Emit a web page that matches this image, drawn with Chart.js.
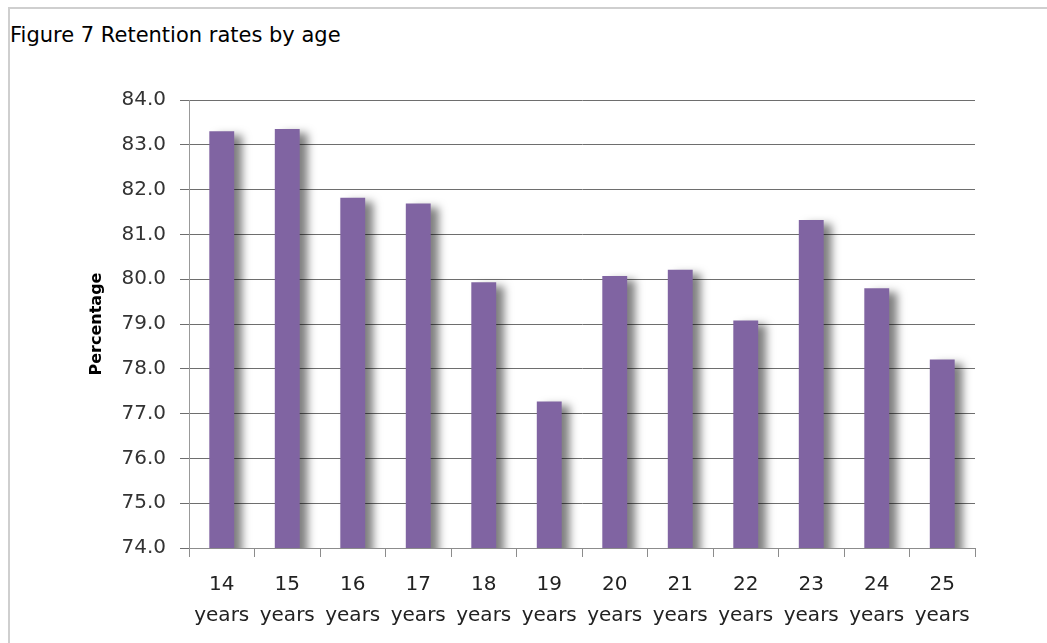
<!DOCTYPE html>
<html>
<head>
<meta charset="utf-8">
<script src="https://cdn.jsdelivr.net/npm/chart.js@4/dist/chart.umd.min.js"></script>
<style>
  html, body { margin: 0; padding: 0; background: #fff; }
  #wrap { position: relative; width: 1047px; height: 643px; overflow: hidden; }
  #frame { position: absolute; left: 8px; top: 7px; right: -10px; bottom: -10px;
           border-top: 2px solid #cfcfcf; border-left: 2px solid #cfcfcf; }
  #title { position: absolute; left: 10px; top: 25px; font-family: "DejaVu Sans", Verdana, sans-serif;
           font-size: 21px; line-height: 21px; color: #000; white-space: nowrap; }
  canvas { position: absolute; left: 0; top: 0; }
</style>
</head>
<body>
<div id="wrap">
  <div id="frame"></div>
  <div id="title">Figure 7 Retention rates by age</div>
  <canvas id="c" width="1047" height="643"></canvas>
</div>
<script>
const ages = ['14','15','16','17','18','19','20','21','22','23','24','25'];
const unitLabel = 'years';
const retention = [83.3, 83.35, 81.82, 81.69, 79.93, 77.27, 80.07, 80.21, 79.08, 81.32, 79.8, 78.21];
const yMin = 74.0;
const yMax = 84.0;
const yStep = 1.0;
const yAxisTitle = 'Percentage';

const labels = ages.map(a => [a, unitLabel]);

const shadowPlugin = {
  id: 'barShadow',
  beforeDatasetDraw(chart) {
    const ctx = chart.ctx;
    ctx.save();
    ctx.shadowColor = 'rgba(0,0,0,0.5)';
    ctx.shadowBlur = 9;
    ctx.shadowOffsetX = 8;
    ctx.shadowOffsetY = 4;
  },
  afterDatasetDraw(chart) {
    chart.ctx.restore();
  }
};

new Chart(document.getElementById('c'), {
  type: 'bar',
  data: {
    labels: labels,
    datasets: [{
      data: retention,
      backgroundColor: '#8064A2',
      borderWidth: 0,
      barPercentage: 0.38,
      categoryPercentage: 1.0
    }]
  },
  options: {
    responsive: false,
    animation: false,
    layout: { padding: { left: 80, top: 100, right: 72, bottom: 0 } },
    plugins: { legend: { display: false }, tooltip: { enabled: false }, title: { display: false } },
    scales: {
      x: {
        grid: { drawOnChartArea: false, drawTicks: true, tickLength: 9, color: '#8c8c8c', offset: true },
        border: { display: true, color: '#8c8c8c', width: 1 },
        ticks: {
          color: '#222',
          font: { family: '"DejaVu Sans", Verdana, sans-serif', size: 20, lineHeight: 1.55 },
          padding: 12,
          maxRotation: 0,
          autoSkip: false
        },
        afterFit(scale) { scale.height = 95; }
      },
      y: {
        min: yMin,
        max: yMax,
        grid: { color: '#6e6e6e', lineWidth: 1, tickLength: 9, drawTicks: true },
        border: { display: true, color: '#999999', width: 1 },
        ticks: {
          stepSize: yStep,
          color: '#333',
          padding: 14,
          font: { family: '"DejaVu Sans", Verdana, sans-serif', size: 20 },
          callback: v => Number(v).toFixed(1)
        },
        title: {
          display: true,
          text: yAxisTitle,
          color: '#000',
          font: { family: '"DejaVu Sans", Verdana, sans-serif', size: 16, weight: 'bold' },
          padding: { top: 7, bottom: 0 }
        },
        afterFit(scale) { scale.width = 109; }
      }
    }
  },
  plugins: [shadowPlugin]
});
</script>
</body>
</html>
